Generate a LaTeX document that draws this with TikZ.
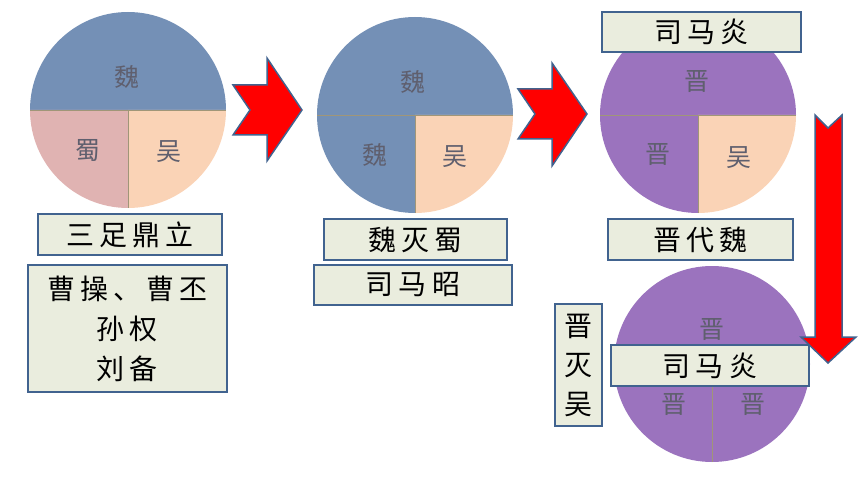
\documentclass[tikz,border=0pt]{standalone}
\usepackage{fontspec}
\setmainfont{Noto Sans CJK SC}
\newfontfamily\kai[LetterSpace=18]{Noto Sans CJK SC}
\definecolor{weiblue}{RGB}{116,144,182}
\definecolor{shupink}{RGB}{224,179,178}
\definecolor{wupeach}{RGB}{250,211,182}
\definecolor{jinpurple}{RGB}{155,115,190}
\definecolor{boxfill}{RGB}{234,237,222}
\definecolor{boxblue}{RGB}{65,99,143}
\definecolor{guogray}{RGB}{95,95,110}
\definecolor{seam}{RGB}{160,150,120}
\tikzset{
  tag/.style={draw=boxblue,fill=boxfill,line width=1.5pt,inner sep=0pt,align=center,font=\kai\fontsize{28}{40}\selectfont},
  guo/.style={text=guogray,font=\fontsize{25}{25}\selectfont},
  jiantou/.style={fill=red,draw=boxblue,line width=1.5pt,line join=miter}
}
% pie: center x, center y, top colour, lower left colour, lower right colour
\newcommand\pieslices[5]{
  \fill[#3] (#1-98,#2) arc(180:0:98) -- cycle;
  \fill[#4] (#1,#2) -- (#1-98,#2) arc(180:270:98) -- cycle;
  \fill[#5] (#1,#2) -- (#1,#2-98) arc(270:360:98) -- cycle;
  \draw[seam,line width=0.8pt] (#1-98,#2) -- (#1+98,#2) (#1,#2) -- (#1,#2-98);
}
\begin{document}
\begin{tikzpicture}[x=1pt,y=1pt]
        \useasboundingbox (0,0) rectangle (860,-484);
        % circles
        \pieslices{128}{-110}{weiblue}{shupink}{wupeach}
        \pieslices{415}{-115}{weiblue}{weiblue}{wupeach}
        \pieslices{698}{-115}{jinpurple}{jinpurple}{wupeach}
        \pieslices{712}{-364}{jinpurple}{jinpurple}{jinpurple}
        \node[guo] (wei1) at (127,-77) {魏};
        \node[guo] (shu1) at (88,-150) {蜀};
        \node[guo] (wu1) at (169,-152) {吴};
        \node[guo] (wei2) at (413,-82) {魏};
        \node[guo] (wei3) at (375,-155) {魏};
        \node[guo] (wu2) at (455,-157) {吴};
        \node[guo] (jin1) at (697,-82) {晋};
        \node[guo] (jin2) at (658,-155) {晋};
        \node[guo] (wu3) at (739,-158) {吴};
        \node[guo] (jin3) at (712,-330) {晋};
        \node[guo] (jin4) at (674,-405) {晋};
        \node[guo] (jin5) at (753,-405) {晋};
        % arrows
        \draw[jiantou] (233,-85)--(267,-85)--(267,-58)--(302,-110)--(267,-161)--(267,-135)--(233,-135)--(250,-110)--cycle;
        \draw[jiantou] (518,-89)--(552,-89)--(552,-63)--(587,-114)--(552,-166)--(552,-139)--(518,-139)--(535,-114)--cycle;
        \draw[jiantou] (815,-115)--(828,-128)--(842,-115)--(842,-337)--(856,-337)--(828,-363)--(801,-337)--(815,-337)--cycle;
        % labels
        \node[tag,minimum width=184,minimum height=41] (dingli) at (130,-234.5) {三足鼎立};
        \node[tag,minimum width=199,minimum height=127] (renwu) at (127.5,-328.5) {曹操、曹丕\\孙权\\刘备};
        \node[tag,minimum width=183,minimum height=41] (miesu) at (415.5,-239.5) {魏灭蜀};
        \node[tag,minimum width=198,minimum height=40] (zhao) at (413,-285) {司马昭};
        \node[tag,minimum width=199,minimum height=40] (yan1) at (701.5,-32) {司马炎};
        \node[tag,minimum width=185,minimum height=41] (daiwei) at (700.5,-239.5) {晋代魏};
        \node[tag,minimum width=47,minimum height=122,font=\kai\fontsize{28}{39}\selectfont] (miewu) at (578.5,-365) {晋\\灭\\吴};
        \node[tag,minimum width=198,minimum height=41] (yan2) at (710,-365.5) {司马炎};
\end{tikzpicture}
\end{document}
